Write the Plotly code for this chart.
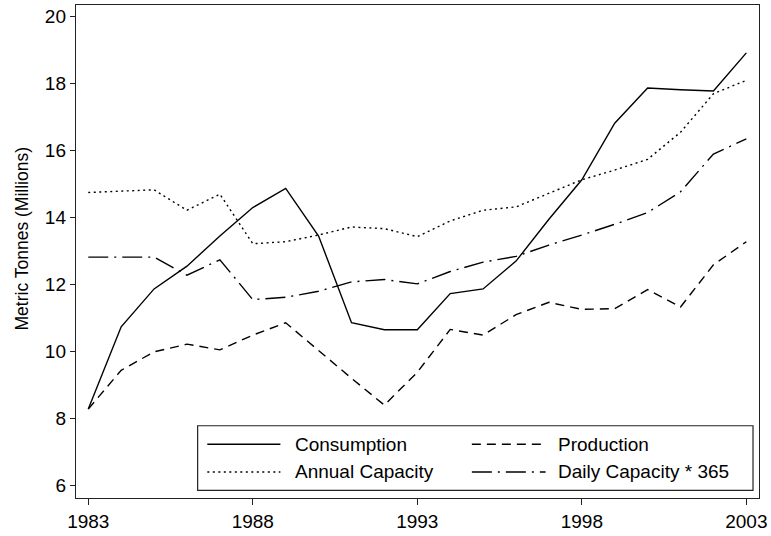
import plotly.graph_objects as go

years = list(range(1983, 2004))
consumption = [8.28, 10.74, 11.87, 12.55, 13.45, 14.30, 14.87, 13.45, 10.86, 10.65, 10.65,
               11.73, 11.87, 12.70, 13.95, 15.13, 16.82, 17.87, 17.82, 17.78, 18.92]
production = [8.28, 9.44, 9.99, 10.22, 10.05, 10.49, 10.86, 10.02, 9.20, 8.40, 9.38,
              10.66, 10.49, 11.10, 11.47, 11.26, 11.28, 11.85, 11.33, 12.59, 13.28]
annual_capacity = [14.75, 14.78, 14.83, 14.22, 14.70, 13.22, 13.28, 13.48, 13.72, 13.67, 13.43,
                   13.90, 14.22, 14.32, 14.72, 15.13, 15.42, 15.74, 16.55, 17.70, 18.10]
daily_capacity = [12.82, 12.82, 12.82, 12.28, 12.74, 11.55, 11.62, 11.80, 12.08, 12.15, 12.02,
                  12.39, 12.67, 12.84, 13.18, 13.48, 13.80, 14.15, 14.77, 15.90, 16.35]

x_ticks = [1983, 1988, 1993, 1998, 2003]
y_ticks = [6, 8, 10, 12, 14, 16, 18, 20]
y_title = "Metric Tonnes (Millions)"

series = [
    ("Consumption", consumption, "solid"),
    ("Production", production, "9px,6px"),
    ("Annual Capacity", annual_capacity, "2px,3.5px"),
    ("Daily Capacity * 365", daily_capacity, "20px,6px,2px,6px"),
]

FONT = "Liberation Sans, Arial, Helvetica, sans-serif"
W, H = 771, 536
L, R, T, B = 76, 761, 4, 502
LW = 1.4

fig = go.Figure()
for name, vals, dash in series:
    fig.add_trace(go.Scatter(x=years, y=vals, mode="lines", name=name,
                             line=dict(color="black", width=LW, dash=dash),
                             showlegend=False))

def px_x(p):
    return (p - L) / (R - L)

def px_y(p):
    return (B - p) / (B - T)

shapes = []
annotations = []
# legend box
shapes.append(dict(type="rect", xref="paper", yref="paper",
                   x0=px_x(198), x1=px_x(755), y0=px_y(494.3), y1=px_y(429),
                   line=dict(color="#222", width=1.2), fillcolor="white", layer="above"))
legend_pos = [
    (207.7, 281, 295, 447.7),
    (473, 547, 558, 447.7),
    (207.7, 281, 295, 475.7),
    (473, 547, 558, 475.7),
]
for (name, vals, dash), (lx0, lx1, tx, ly) in zip(series, legend_pos):
    shapes.append(dict(type="line", xref="paper", yref="paper",
                       x0=px_x(lx0), x1=px_x(lx1), y0=px_y(ly), y1=px_y(ly),
                       line=dict(color="black", width=LW, dash=dash), layer="above"))
    annotations.append(dict(xref="paper", yref="paper", x=px_x(tx), y=px_y(ly),
                            xanchor="left", yanchor="middle", text=name, showarrow=False,
                            font=dict(family=FONT, size=19, color="black"),
                            borderpad=0))

annotations.append(dict(xref="paper", yref="paper", x=px_x(21.7), y=px_y(240),
                        xanchor="center", yanchor="middle", text=y_title, textangle=-90,
                        showarrow=False, font=dict(family=FONT, size=17.5, color="black")))

fig.update_layout(
    width=W, height=H,
    margin=dict(l=L, r=W - R, t=T, b=H - B, pad=0),
    paper_bgcolor="white", plot_bgcolor="white",
    font=dict(family=FONT, color="black"),
    shapes=shapes, annotations=annotations,
    showlegend=False,
)
fig.update_xaxes(range=[1982.627, 2003.385], tickvals=x_ticks, ticktext=[str(v) for v in x_ticks],
                 ticks="outside", ticklen=6, tickwidth=1.2, tickcolor="#222",
                 showline=True, linecolor="#222", linewidth=1.4, mirror=True,
                 showgrid=False, zeroline=False, tickfont=dict(family=FONT, size=19))
fig.update_yaxes(range=[5.625, 20.35], tickvals=y_ticks, ticktext=[str(v) for v in y_ticks],
                 ticks="outside", ticklen=5, tickwidth=1.2, tickcolor="#222",
                 showline=True, linecolor="#222", linewidth=1.4, mirror=True,
                 showgrid=False, zeroline=False, tickfont=dict(family=FONT, size=19))

fig.write_html("out.html", config={"displayModeBar": False},
               post_script="document.body.style.margin='0';document.body.style.padding='0';")
